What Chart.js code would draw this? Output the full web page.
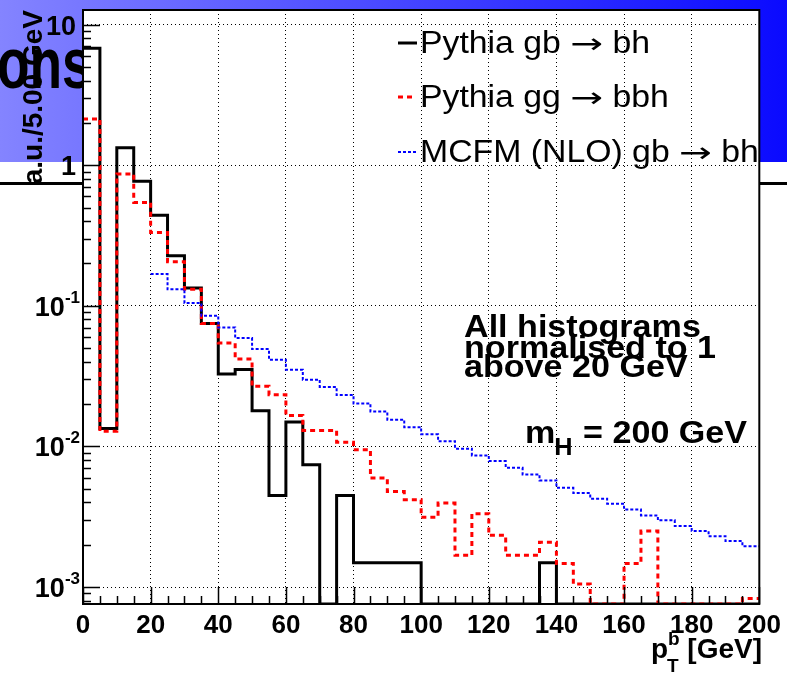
<!DOCTYPE html>
<html>
<head>
<meta charset="utf-8">
<title>b-jet pT spectrum</title>
<script src="https://cdn.jsdelivr.net/npm/chart.js@4.4.0/dist/chart.umd.min.js"></script>
<style>
  html, body { margin: 0; padding: 0; background: #fff; }
  canvas { display: block; }
</style>
</head>
<body>
<canvas id="ptb" width="787" height="676"></canvas>
<script>
// pT of the b quark, 5 GeV bins from 0 to 200 GeV, arbitrary units (log y)
const BIN_WIDTH = 5;
const X_MIN = 0;
const X_MAX = 200;
const Y_MIN = 7.57e-4;
const Y_MAX = 12.7;

// 0 means an empty bin (ROOT draws it on the bottom of the frame)
const pythiaGbBh = [
  6.8, 0.0134, 1.33, 0.77, 0.44, 0.227, 0.134, 0.0748, 0.0327, 0.0352,
  0.0179, 0.00448, 0.0149, 0.0074, 0, 0.00448, 0.00149, 0.00149, 0.00149, 0.00149,
  0, 0, 0, 0, 0, 0, 0, 0.00149, 0, 0,
  0, 0, 0, 0, 0, 0, 0, 0, 0, 0
];

const pythiaGgBbh = [
  2.13, 0.0128, 0.865, 0.543, 0.332, 0.206, 0.131, 0.0748, 0.0543, 0.0418,
  0.0268, 0.0233, 0.0166, 0.013, 0.013, 0.0107, 0.00947, 0.00596, 0.00478, 0.00418,
  0.00314, 0.00395, 0.00168, 0.00332, 0.00233, 0.00168, 0.00168, 0.00208, 0.00147, 0.00105,
  0, 0, 0.00147, 0.0025, 0, 0, 0, 0, 0, 0.00083
];

// MCFM curve only starts at 20 GeV
const mcfmGbBh = [
  null, null, null, null, 0.168, 0.131, 0.1045, 0.085, 0.0702, 0.0589,
  0.0492, 0.0413, 0.0351, 0.0298, 0.0265, 0.0232, 0.0202, 0.0177, 0.0155, 0.0137,
  0.0122, 0.0109, 0.00963, 0.00863, 0.00786, 0.00705, 0.00632, 0.00573, 0.00508, 0.00466,
  0.00425, 0.00391, 0.00356, 0.00323, 0.00298, 0.00271, 0.0025, 0.0023, 0.00212, 0.00195
];

const seriesLabels = ['Pythia gb \u2192 bh', 'Pythia gg \u2192 bbh', 'MCFM (NLO) gb \u2192 bh'];
const xTickLabels = [0, 20, 40, 60, 80, 100, 120, 140, 160, 180, 200];
const yDecades = [10, 1, 0.1, 0.01, 0.001];
const yTickLabels = [['10', ''], ['1', ''], ['10', '-1'], ['10', '-2'], ['10', '-3']];

const FONT = '"Liberation Sans", Arial, Helvetica, sans-serif';
const ARROW_FONT = '"DejaVu Sans", sans-serif';

// histogram -> step points (left edge of every bin, plus the closing right edge)
function toSteps(values) {
  const pts = [];
  let last = null;
  values.forEach((v, i) => {
    if (v === null) return;
    const y = v > 0 ? v : Y_MIN;
    pts.push({ x: X_MIN + i * BIN_WIDTH, y });
    last = y;
  });
  if (last !== null) pts.push({ x: X_MAX, y: last });
  return pts;
}

function isDecade(v) {
  const l = Math.log10(v);
  return Math.abs(l - Math.round(l)) < 1e-6;
}

function stretchedText(ctx, text, x, y, font, sx, align) {
  ctx.save();
  ctx.font = font;
  ctx.textAlign = align || 'left';
  ctx.textBaseline = 'alphabetic';
  ctx.translate(x, y);
  ctx.scale(sx, 1);
  ctx.fillText(text, 0, 0);
  const w = ctx.measureText(text).width * sx;
  ctx.restore();
  return w;
}

// legend text: long thin arrow, like TLatex #rightarrow
function legendText(ctx, text, x, y) {
  const parts = text.split('\u2192');
  let cx = x;
  parts.forEach((p, i) => {
    if (i > 0) cx += stretchedText(ctx, '\u2192', cx, y, '28px ' + ARROW_FONT, 1.4);
    cx += stretchedText(ctx, p, cx, y, '31px ' + FONT, 1.09);
  });
}

const rootLook = {
  id: 'rootLook',
  beforeDraw(chart) {
    const { ctx, chartArea: ca, width, height } = chart;
    ctx.save();
    ctx.fillStyle = '#fff';
    ctx.fillRect(0, 0, width, height);

    // slide banner behind the figure
    const g = ctx.createLinearGradient(0, 0, width, 0);
    g.addColorStop(0, '#8484ff');
    g.addColorStop(1, '#0a0aff');
    ctx.fillStyle = g;
    ctx.fillRect(0, 0, width, 162);
    ctx.fillStyle = '#000';
    stretchedText(ctx, 'ons', -3, 88, 'bold 72px ' + FONT, 0.74);
    ctx.fillRect(0, 182, width, 3);

    ctx.fillStyle = '#fff';
    ctx.fillRect(ca.left, ca.top, ca.right - ca.left, ca.bottom - ca.top);
    ctx.restore();
  },
  afterDraw(chart) {
    const { ctx, chartArea: ca } = chart;
    const xs = chart.scales.x;
    const ys = chart.scales.y;
    ctx.save();

    // frame
    ctx.strokeStyle = '#000';
    ctx.lineWidth = 2;
    ctx.setLineDash([]);
    ctx.strokeRect(ca.left, ca.top, ca.right - ca.left, ca.bottom - ca.top);

    // ticks drawn inside the frame, ROOT style
    ctx.lineWidth = 1.5;
    ctx.beginPath();
    xs.ticks.forEach(t => {
      const px = Math.round(xs.getPixelForValue(t.value)) + 0.5;
      const len = t.value % 20 === 0 ? 17 : 8;
      ctx.moveTo(px, ca.bottom);
      ctx.lineTo(px, ca.bottom - len);
    });
    for (let e = -4; e <= 1; e++) {
      for (let m = 1; m <= 9; m++) {
        const v = m * Math.pow(10, e);
        if (v < Y_MIN || v > Y_MAX) continue;
        const py = Math.round(ys.getPixelForValue(v)) + 0.5;
        ctx.moveTo(ca.left, py);
        ctx.lineTo(ca.left + (m === 1 ? 17 : 8), py);
      }
    }
    ctx.stroke();

    // y tick labels with exponents
    ctx.fillStyle = '#000';
    yDecades.forEach((v, i) => {
      const py = ys.getPixelForValue(v);
      const [base, exp] = yTickLabels[i];
      let right = 76;
      if (exp) {
        ctx.font = 'bold 17px ' + FONT;
        ctx.textAlign = 'right';
        ctx.fillText(exp, right + 4, py - 3);
        right -= ctx.measureText(exp).width - 4;
      }
      ctx.font = 'bold 27px ' + FONT;
      ctx.textAlign = 'right';
      ctx.fillText(base, right, py + 10);
    });

    // y title
    ctx.save();
    ctx.translate(42, 10);
    ctx.rotate(-Math.PI / 2);
    ctx.font = 'bold 28px ' + FONT;
    ctx.textAlign = 'right';
    ctx.fillText('a.u./5.00 GeV', 0, 0);
    ctx.restore();

    // x title  p_T^b [GeV]
    ctx.textAlign = 'left';
    ctx.font = 'bold 28px ' + FONT;
    ctx.fillText('p', 651, 658);
    ctx.font = 'bold 19px ' + FONT;
    ctx.fillText('b', 668, 645);
    ctx.fillText('T', 667, 672);
    ctx.font = 'bold 28px ' + FONT;
    ctx.textAlign = 'right';
    ctx.fillText('[GeV]', 762, 658);

    // legend
    const rows = [53, 107, 162];
    chart.data.datasets.forEach((ds, i) => {
      const yb = rows[i];
      const ym = yb - 10;
      ctx.save();
      ctx.strokeStyle = ds.borderColor;
      ctx.lineWidth = ds.borderWidth;
      ctx.setLineDash(ds.borderDash || []);
      ctx.beginPath();
      ctx.moveTo(398, ym);
      ctx.lineTo(i === 1 ? 413 : 417, ym);
      ctx.stroke();
      ctx.restore();
      ctx.fillStyle = '#000';
      legendText(ctx, ds.label, 420, yb);
    });

    // annotations
    const bold31 = 'bold 31px ' + FONT;
    const sx = 1.1;
    stretchedText(ctx, 'All histograms', 464, 337, bold31, sx);
    stretchedText(ctx, 'normalised to 1', 464, 358, bold31, sx);
    stretchedText(ctx, 'above 20 GeV', 464, 377, bold31, sx);
    let x = 525;
    x += stretchedText(ctx, 'm', x, 443, bold31, sx);
    x += stretchedText(ctx, 'H', x - 1, 455, 'bold 23px ' + FONT, sx);
    stretchedText(ctx, ' = 200 GeV', x, 443, bold31, sx);

    ctx.restore();
  }
};

const ctx = document.getElementById('ptb').getContext('2d');

new Chart(ctx, {
  type: 'line',
  data: {
    datasets: [
      {
        label: seriesLabels[0],
        data: toSteps(pythiaGbBh),
        borderColor: '#000000',
        borderWidth: 3,
        borderDash: [],
        order: 3
      },
      {
        label: seriesLabels[1],
        data: toSteps(pythiaGgBbh),
        borderColor: '#ff0000',
        borderWidth: 3,
        borderDash: [5, 4],
        order: 2
      },
      {
        label: seriesLabels[2],
        data: toSteps(mcfmGbBh),
        borderColor: '#0000ff',
        borderWidth: 2,
        borderDash: [3, 2],
        order: 1
      }
    ].map(ds => Object.assign(ds, { stepped: 'before', pointRadius: 0, fill: false, tension: 0 }))
  },
  options: {
    responsive: false,
    animation: false,
    devicePixelRatio: 1,
    layout: { padding: { top: 10, right: 25, left: 0, bottom: 0 } },
    plugins: {
      legend: { display: false },
      tooltip: { enabled: false }
    },
    scales: {
      x: {
        type: 'linear',
        min: X_MIN,
        max: X_MAX,
        afterFit(scale) { scale.height = 72; },
        grid: {
          drawTicks: false,
          lineWidth: 1,
          color: c => (c.tick && c.tick.value % 20 === 0 && c.tick.value > X_MIN && c.tick.value < X_MAX) ? '#000' : 'rgba(0,0,0,0)'
        },
        border: { display: false, dash: [1, 3] },
        ticks: {
          stepSize: BIN_WIDTH,
          autoSkip: false,
          maxRotation: 0,
          padding: 6,
          color: '#000',
          font: { family: FONT, size: 26, weight: 'bold' },
          callback: v => xTickLabels.includes(v) ? String(v) : ''
        }
      },
      y: {
        type: 'logarithmic',
        min: Y_MIN,
        max: Y_MAX,
        afterFit(scale) { scale.width = 83; },
        grid: {
          drawTicks: false,
          lineWidth: 1,
          color: c => (c.tick && isDecade(c.tick.value)) ? '#000' : 'rgba(0,0,0,0)'
        },
        border: { display: false, dash: [1, 3] },
        ticks: { display: false }
      }
    }
  },
  plugins: [rootLook]
});
</script>
</body>
</html>
